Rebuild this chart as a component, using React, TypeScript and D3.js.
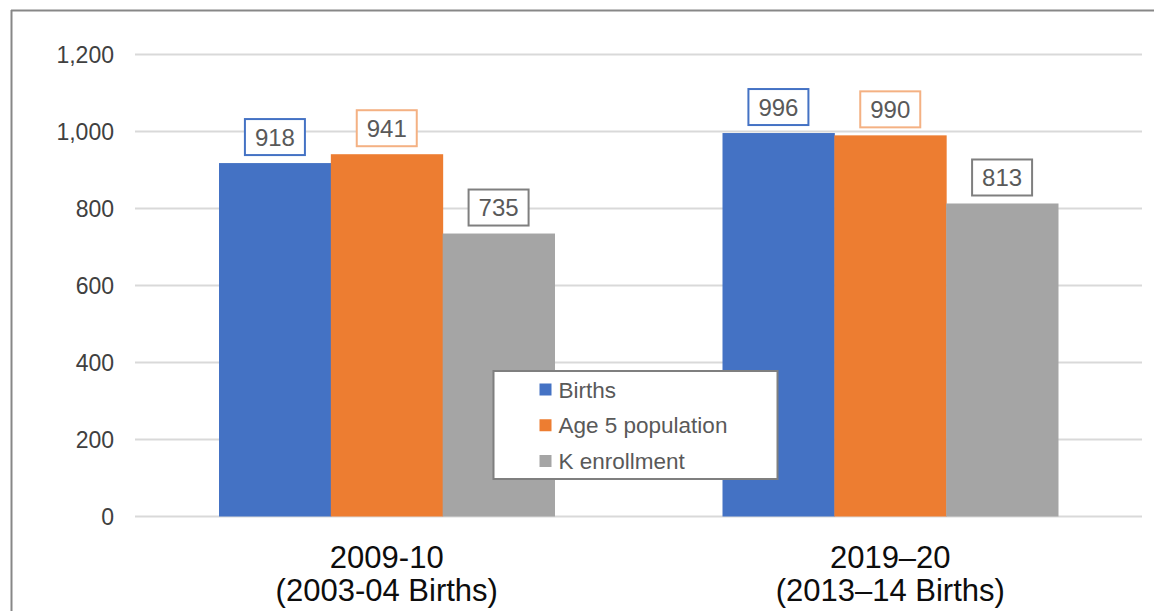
import * as d3 from "d3";
import { useEffect, useRef } from "react";

const categories = ["2009-10|(2003-04 Births)", "2019–20|(2013–14 Births)"];
const seriesNames = ["Births", "Age 5 population", "K enrollment"];
const births = [918, 996];
const age5Population = [941, 990];
const kEnrollment = [735, 813];
const yTicks = [0, 200, 400, 600, 800, 1000, 1200];

const fills = ["#4472c4", "#ed7d31", "#a5a5a5"];
const labelBorders = ["#4472c4", "#f4b183", "#7f7f7f"];

type Cell = { cat: string; series: string; value: number; idx: number };

export default function App() {
  const svgRef = useRef<SVGSVGElement | null>(null);

  useEffect(() => {
    if (!svgRef.current) return;
    const svg = d3.select(svgRef.current);
    svg.selectAll("*").remove();

    const width = 1154;
    const height = 611;
    const font = "'Liberation Sans', Arial, sans-serif";
    svg.attr("viewBox", `0 0 ${width} ${height}`);

    // chart frame (top + left edges visible)
    svg.append("line").attr("x1", 11).attr("x2", width).attr("y1", 10.5).attr("y2", 10.5)
      .attr("stroke", "#878787").attr("stroke-width", 2);
    svg.append("line").attr("x1", 11.5).attr("x2", 11.5).attr("y1", 10).attr("y2", height)
      .attr("stroke", "#878787").attr("stroke-width", 2);

    const x0 = d3.scaleBand<string>().domain(categories).range([135, 1142]).padding(0);
    const x1 = d3.scaleBand<string>().domain(seriesNames).range([84, x0.bandwidth() - 84]).padding(0);
    const y = d3.scaleLinear().domain([0, 1200]).range([516.5, 54.5]);

    const grid = svg.append("g");
    grid.selectAll("line").data(yTicks).join("line")
      .attr("x1", 135).attr("x2", 1142)
      .attr("y1", (t) => y(t)).attr("y2", (t) => y(t))
      .attr("stroke", "#d9d9d9").attr("stroke-width", 2);

    grid.selectAll("text").data(yTicks).join("text")
      .attr("x", 114).attr("y", (t) => y(t))
      .attr("dy", "0.36em")
      .attr("text-anchor", "end")
      .attr("font-family", font).attr("font-size", 23)
      .attr("fill", "#404040")
      .text((t) => d3.format(",")(t));

    const cells: Cell[] = [];
    categories.forEach((cat, i) => {
      [births, age5Population, kEnrollment].forEach((vals, s) => {
        cells.push({ cat, series: seriesNames[s], value: vals[i], idx: s });
      });
    });

    const bx = (c: Cell) => (x0(c.cat) ?? 0) + (x1(c.series) ?? 0);

    svg.append("g").selectAll("rect").data(cells).join("rect")
      .attr("x", bx)
      .attr("y", (c) => y(c.value))
      .attr("width", x1.bandwidth() + 0.5)
      .attr("height", (c) => y(0) - y(c.value))
      .attr("fill", (c) => fills[c.idx]);

    // data labels in outlined boxes
    const labels = svg.append("g");
    const boxW = 60;
    const boxH = 36;
    labels.selectAll("rect").data(cells).join("rect")
      .attr("x", (c) => bx(c) + x1.bandwidth() / 2 - boxW / 2)
      .attr("y", (c) => y(c.value) - 8 - boxH)
      .attr("width", boxW).attr("height", boxH)
      .attr("fill", "#ffffff")
      .attr("stroke", (c) => labelBorders[c.idx])
      .attr("stroke-width", 2);
    labels.selectAll("text").data(cells).join("text")
      .attr("x", (c) => bx(c) + x1.bandwidth() / 2)
      .attr("y", (c) => y(c.value) - 8 - boxH / 2)
      .attr("dy", "0.36em")
      .attr("text-anchor", "middle")
      .attr("font-family", font).attr("font-size", 24)
      .attr("fill", "#595959")
      .text((c) => c.value);

    // category labels
    const cats = svg.append("g");
    categories.forEach((cat) => {
      const [l1, l2] = cat.split("|");
      const cx = (x0(cat) ?? 0) + x0.bandwidth() / 2;
      [l1, l2].forEach((line, k) => {
        cats.append("text")
          .attr("x", cx)
          .attr("y", 557 + k * 33)
          .attr("dy", "0.36em")
          .attr("text-anchor", "middle")
          .attr("font-family", font).attr("font-size", 31)
          .attr("fill", "#0d0d0d")
          .text(line);
      });
    });

    // legend
    const legend = svg.append("g").attr("transform", "translate(493.5,371)");
    legend.append("rect").attr("width", 284).attr("height", 108)
      .attr("fill", "#ffffff").attr("stroke", "#7f7f7f").attr("stroke-width", 2);
    const ly = d3.scalePoint<string>().domain(seriesNames).range([18.5, 90]);
    legend.selectAll(".sw").data(seriesNames).join("rect")
      .attr("x", 46).attr("y", (s) => (ly(s) ?? 0) - 6)
      .attr("width", 12).attr("height", 12)
      .attr("fill", (_s, i) => fills[i]);
    legend.selectAll(".lt").data(seriesNames).join("text")
      .attr("x", 65).attr("y", (s) => ly(s) ?? 0)
      .attr("dy", "0.36em")
      .attr("font-family", font).attr("font-size", 22.5)
      .attr("fill", "#595959")
      .text((s) => s);
  }, []);

  return (
    <div style={{ position: "fixed", left: 0, top: 0, width: 1154, height: 611, background: "#fff" }}>
      <svg ref={svgRef} width={1154} height={611} style={{ display: "block" }} />
    </div>
  );
}
